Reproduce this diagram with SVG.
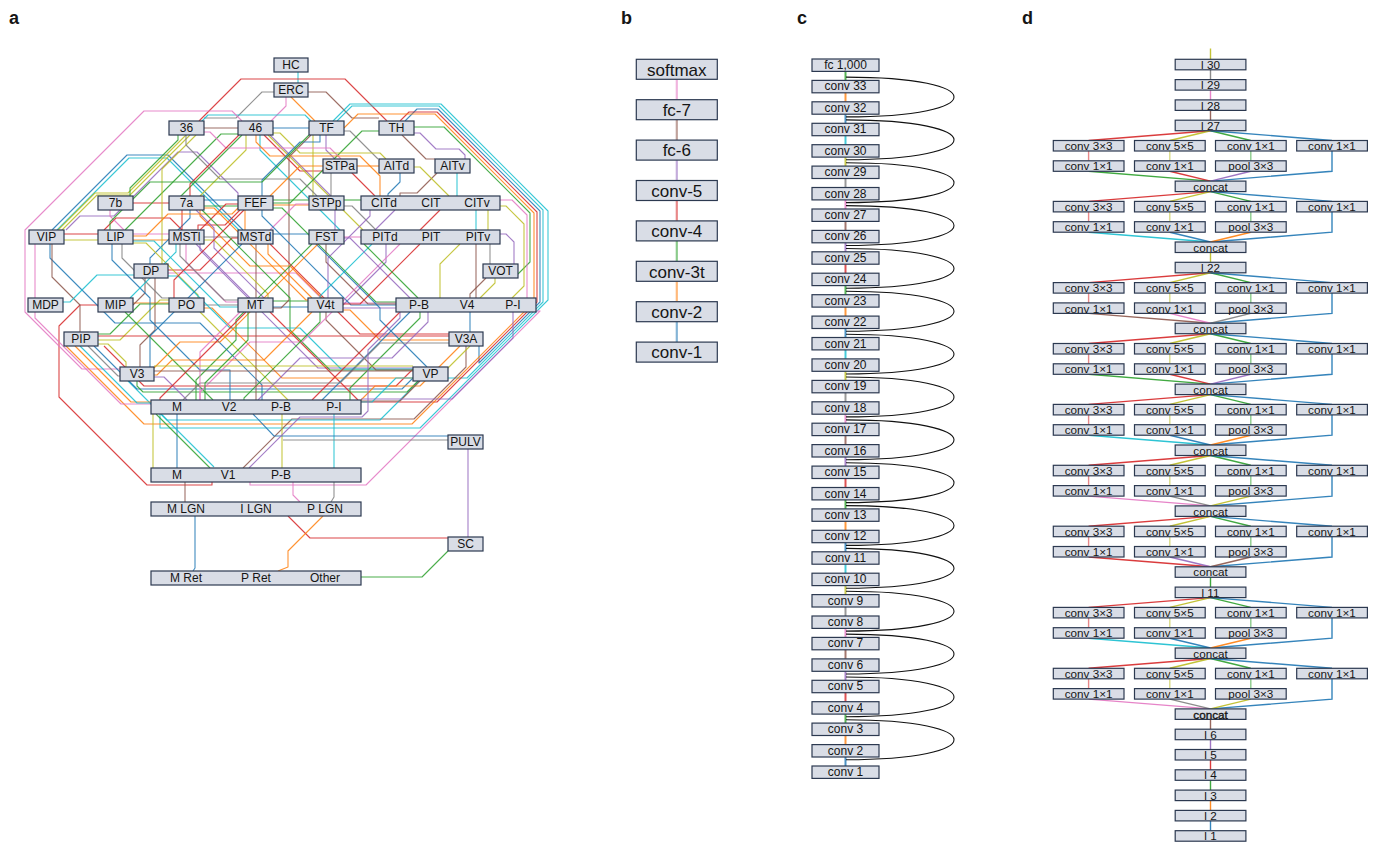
<svg xmlns="http://www.w3.org/2000/svg" width="1376" height="843" viewBox="0 0 1376 843">
<style>
text{font-family:"Liberation Sans",Arial,Helvetica,sans-serif;fill:#151515}
.lbl{font-size:18px;font-weight:bold}
.n rect{fill:#d9dde6;stroke:#2c3950;stroke-width:1.2}
.ta{font-size:12px;text-anchor:middle}
.tb{font-size:17px;text-anchor:middle}
.tc{font-size:12px;text-anchor:middle}
.td{font-size:11.7px;text-anchor:middle}
#conA path{fill:none;stroke-width:1.1;stroke-linejoin:round;opacity:.85}
#conB path{fill:none;stroke-width:2.2;opacity:.55}
#conC path{fill:none;stroke-width:2;opacity:.8}
#conC .arc{stroke:#111;stroke-width:1.1;opacity:1}
#conD path{fill:none;stroke-width:1.4;opacity:.9}
#conD .lt{opacity:.55}
.c0{stroke:#1f77b4}.c1{stroke:#ff7f0e}.c2{stroke:#2ca02c}.c3{stroke:#d62728}.c4{stroke:#9467bd}
.c5{stroke:#8c564b}.c6{stroke:#e377c2}.c7{stroke:#7f7f7f}.c8{stroke:#bcbd22}.c9{stroke:#17becf}
</style>
<rect width="1376" height="843" fill="#ffffff"/>
<text class="lbl" x="9" y="24">a</text>
<text class="lbl" x="621" y="24">b</text>
<text class="lbl" x="797" y="24">c</text>
<text class="lbl" x="1022" y="24">d</text>

<!-- ========== PANEL A CONNECTORS ========== -->
<g id="conA">
<path class="c9" d="M298,72 V83"/>
<path class="c1" d="M291,97 L315,121"/>
<path class="c5" d="M308,92 H326 L352,118 H379"/>
<path class="c7" d="M274,92 H262 L236,118 H204"/>
<path class="c3" d="M199,121 L241,79 H345 L387,121"/>
<path class="c6" d="M286,97 V106 L271,121"/>
<path class="c5" d="M204,128 H238"/>
<path class="c0" d="M273,128 H309"/>
<path class="c9" d="M202,121 L208,115 H305 L311,121"/>
<!-- outer envelope -->
<path class="c9" d="M333,121 L350,104 H441 L548,211 V300 L420,428 H160 V414"/>
<path class="c9" d="M337,121 L352,106 H439 L543,210 V302 L467,378 H448"/>
<path class="c0" d="M405,121 L417,109 H438 L540,211 V302 L479,363 V346"/>
<path class="c3" d="M400,121 L409,112 H437 L537,212 V302 L437,402 H361"/>
<path class="c1" d="M66,346 L144,424 H412 L534,302 V213 L435,114 H358 L344,128"/>
<path class="c2" d="M414,127 H444 L530,213 V262 L518,274"/>
<path class="c5" d="M243,468 L292,419 H414 L466,367 V346"/>
<path class="c9" d="M128,381 L167,420 H380 L419,381"/>
<path class="c6" d="M250,482 V485 H366 L540,311 H536"/>
<path class="c3" d="M98,305 H80 L59,326 V397 L147,485 H212 V482"/>
<path class="c6" d="M242,121 L232,111 H144 L25,230 V312 L82,369 H120"/>
<path class="c6" d="M35,244 V318 L121,404 H151"/>
<!-- left / top-left -->
<path class="c0" d="M52,230 L127,155 H168 L243,230"/>
<path class="c9" d="M57,230 L129,158 H167 L239,230"/>
<path class="c8" d="M58,230 L95,193 H128 L186,135"/>
<path class="c8" d="M62,230 L97,195 H130 L190,135"/>
<path class="c4" d="M66,230 L80,216 H114 L178,152 H197 L238,193 V196"/>
<path class="c3" d="M133,203 H169"/>
<path class="c3" d="M64,234 H98"/>
<path class="c8" d="M64,240 H98"/>
<path class="c6" d="M133,234 H169"/>
<path class="c1" d="M133,240 H169"/>
<path class="c7" d="M204,237 H238"/>
<path class="c0" d="M273,234 H309"/>
<path class="c6" d="M344,237 H361"/>
<path class="c0" d="M204,200 H238"/>
<path class="c2" d="M204,206 H238"/>
<path class="c2" d="M273,200 H309"/>
<path class="c1" d="M273,205 H309"/>
<path class="c1" d="M357,166 H379"/>
<path class="c1" d="M133,303 H169"/>
<path class="c7" d="M204,305 H238"/>
<path class="c2" d="M273,301 H308"/>
<path class="c0" d="M273,307 H308"/>
<path class="c6" d="M343,303 H396"/>
<path class="c4" d="M343,308 H396"/>
<path class="c3" d="M104,230 L116,218 H170 L182,230"/>
<path class="c2" d="M125,230 L221,134 H238"/>
<path class="c2" d="M178,135 V140 L130,188 V196"/>
<path class="c0" d="M50,244 V258 L115,323 H200 L262,385 V400"/>
<path class="c5" d="M52,244 V277 L80,305 V332"/>
<path class="c9" d="M63,302 H70 L97,275 H134"/>
<path class="c8" d="M98,340 H120 L160,300 H169"/>
<path class="c8" d="M98,344 H108 L126,362 V367"/>
<path class="c7" d="M88,346 L118,376 H120"/>
<path class="c1" d="M75,346 L131,402 H151"/>
<path class="c9" d="M80,346 L137,403 H151"/>
<path class="c5" d="M145,278 V293 L133,305"/>
<path class="c5" d="M155,278 V330 L140,345 V367"/>
<path class="c8" d="M196,135 L162,169 V264"/>
<path class="c3" d="M168,270 H200 L232,238 H238"/>
<path class="c6" d="M110,210 V216 L124,230"/>
<path class="c3" d="M98,336 H449"/>
<path class="c3" d="M104,346 L144,386 H396 L413,369"/>
<path class="c0" d="M94,346 L137,389 H402 L416,375"/>
<path class="c2" d="M137,381 V386 L143,392 H407 L418,381"/>
<path class="c6" d="M168,273 H296 L321,298"/>
<path class="c1" d="M343,310 H350 L380,340 H449"/>
<path class="c2" d="M98,334 H110 L140,304 H169"/>
<path class="c4" d="M386,244 V262 L343,305"/>
<!-- top middle -->
<path class="c2" d="M242,135 L180,197"/>
<path class="c8" d="M246,135 V150 L200,196"/>
<path class="c4" d="M270,135 L331,196"/>
<path class="c3" d="M264,135 L300,171 H350 L375,196"/>
<path class="c8" d="M268,135 L358,225 L363,230"/>
<path class="c9" d="M260,135 V150 L340,230"/>
<path class="c4" d="M326,135 V150 L335,159"/>
<path class="c8" d="M313,135 V196"/>
<path class="c5" d="M311,135 L289,157 V300 L281,308 H273"/>
<path class="c7" d="M344,131 H350 L378,159"/>
<path class="c2" d="M379,131 H362 L290,203 H273"/>
<path class="c5" d="M402,135 L426,159 H435"/>
<path class="c5" d="M437,173 L417,193 H400 V196"/>
<path class="c8" d="M414,167 H420 L449,196"/>
<path class="c7" d="M331,173 V196"/>
<path class="c4" d="M335,210 V230"/>
<path class="c7" d="M344,206 H352 L376,230"/>
<path class="c2" d="M344,200 H361"/>
<path class="c4" d="M395,210 L375,230"/>
<path class="c3" d="M440,210 L420,230"/>
<path class="c9" d="M457,173 V196"/>
<path class="c9" d="M476,210 V230"/>
<path class="c8" d="M488,210 V230"/>
<path class="c5" d="M476,244 V298"/>
<path class="c7" d="M490,244 V264"/>
<path class="c4" d="M500,234 H506 L514,242 V264"/>
<path class="c6" d="M500,200 H512 L527,215 V305 H536"/>
<path class="c8" d="M500,206 H506 L524,224 V286 L512,298"/>
<path class="c8" d="M495,278 V283 L480,298"/>
<path class="c5" d="M486,278 L470,294 V298"/>
<path class="c6" d="M204,132 H210 L226,148 H330 L341,159"/>
<path class="c8" d="M273,133 H280 L300,153 H380 L386,159"/>
<path class="c4" d="M414,133 H420 L436,149 H459 L465,155 V159"/>
<path class="c7" d="M186,135 V145 L220,179 H300 L317,196"/>
<path class="c1" d="M256,135 V142 L270,156 H360 L380,176 V196"/>
<path class="c0" d="M400,173 V182 L388,194 V196"/>
<!-- FEF / 7a -->
<path class="c0" d="M262,196 V180 L300,142 H320 V135"/>
<path class="c1" d="M270,196 L300,166 H323"/>
<path class="c3" d="M190,196 V184 L239,135"/>
<path class="c2" d="M110,230 V222 L150,182 H262 L305,139 L309,135"/>
<path class="c1" d="M245,210 V230"/>
<path class="c3" d="M240,210 L225,225 H198 V230"/>
<path class="c2" d="M273,208 H282 L376,302 H396"/>
<path class="c0" d="M190,210 V218 L150,258 V264"/>
<path class="c1" d="M200,210 V216 L250,266 H290 L322,298"/>
<path class="c3" d="M182,210 V230"/>
<path class="c4" d="M196,210 L214,228 V248 L264,298"/>
<path class="c6" d="M270,230 L296,204 H309"/>
<path class="c3" d="M200,230 L226,204 H238"/>
<!-- LIP / MST -->
<path class="c8" d="M133,243 H146 L198,295 V298"/>
<path class="c9" d="M133,241 H154 L220,307 H238"/>
<path class="c1" d="M133,236 H146 L168,214 H232 L238,208"/>
<path class="c7" d="M122,244 V258 L162,298 H169"/>
<path class="c0" d="M112,244 V260 L150,298 V320 L200,370 H230 V400"/>
<path class="c4" d="M196,244 L250,298"/>
<path class="c5" d="M256,244 V298"/>
<path class="c1" d="M268,244 V254 L312,298"/>
<path class="c8" d="M204,240 H214 L268,294 V298"/>
<path class="c9" d="M176,244 V252 L130,298"/>
<path class="c6" d="M186,244 V262 L226,302 H238"/>
<path class="c7" d="M180,244 V256 L224,300 H238"/>
<!-- crossing diagonals -->
<path class="c0" d="M262,210 V216 L351,305 H396"/>
<path class="c3" d="M270,244 L360,334 H449"/>
<path class="c4" d="M200,244 V250 L318,368 H413"/>
<path class="c2" d="M202,210 L290,298 V330 L330,370 H413"/>
<path class="c1" d="M204,208 H214 L306,300 H308"/>
<path class="c5" d="M326,244 V262 L368,304 H396"/>
<path class="c0" d="M316,244 L380,308 V320 L427,367"/>
<path class="c3" d="M270,312 L358,400"/>
<path class="c8" d="M200,312 L288,400"/>
<path class="c1" d="M204,308 H212 L282,378 H413"/>
<path class="c2" d="M125,312 L213,400"/>
<path class="c4" d="M154,377 H164 L187,400"/>
<path class="c9" d="M168,276 H178 L230,328 H300 L341,369 H413"/>
<path class="c5" d="M326,312 V320 L376,370 H413"/>
<path class="c3" d="M244,210 L174,280 V298"/>
<path class="c0" d="M242,244 L150,336 V367"/>
<path class="c2" d="M312,244 L236,320 V340 L196,380 V400"/>
<path class="c1" d="M318,244 L220,342 H180 L154,368"/>
<path class="c4" d="M370,210 V216 L328,258 V298"/>
<path class="c9" d="M372,244 L320,296 V298"/>
<path class="c3" d="M420,244 L360,304 H343"/>
<path class="c6" d="M400,244 L302,342 H250 L200,392 V400"/>
<path class="c0" d="M410,312 L322,400"/>
<path class="c3" d="M400,312 L312,400"/>
<path class="c2" d="M420,312 V318 L350,388 V400"/>
<path class="c4" d="M428,312 V322 L392,358 H300 L258,400"/>
<path class="c1" d="M460,346 L420,386 H375 L361,400"/>
<path class="c7" d="M449,343 H380 L340,383 H200 L183,400"/>
<path class="c5" d="M420,381 L400,401 H361"/>
<path class="c9" d="M413,378 H396 L372,402 H361"/>
<path class="c8" d="M460,244 L440,264 V298"/>
<path class="c6" d="M240,312 L200,352 V400"/>
<path class="c3" d="M246,312 L160,398 V400"/>
<path class="c1" d="M312,312 L264,360 H172 L157,375 H154"/>
<path class="c2" d="M320,312 V322 L244,398 V400"/>
<path class="c4" d="M410,298 L350,238 H344"/>
<path class="c2" d="M418,298 L364,244"/>
<path class="c4" d="M513,312 V338 L452,399 H361"/>
<path class="c8" d="M470,346 L448,368"/>
<path class="c8" d="M154,366 H413"/>
<path class="c5" d="M154,371 H413"/>
<path class="c5" d="M256,312 V400"/>
<path class="c2" d="M248,312 V340 L205,383 V400"/>
<path class="c0" d="M470,312 V332"/>
<!-- bottom -->
<path class="c0" d="M177,414 V468"/>
<path class="c8" d="M153,414 V468"/>
<path class="c2" d="M156,414 L210,468"/>
<path class="c9" d="M161,414 L214,467"/>
<path class="c8" d="M282,414 V468"/>
<path class="c9" d="M334,414 V468"/>
<path class="c0" d="M253,414 L274,436 H448"/>
<path class="c7" d="M283,440 H448"/>
<path class="c4" d="M249,468 L300,417 H362 L368,411 V350 L400,318 V312"/>
<path class="c4" d="M468,449 V537"/>
<path class="c5" d="M185,482 V502"/>
<path class="c0" d="M195,516 V568 L193,571"/>
<path class="c6" d="M293,482 V495 L300,502"/>
<path class="c7" d="M334,482 V497 L331,502"/>
<path class="c3" d="M288,516 L310,538 H448"/>
<path class="c1" d="M323,516 L288,551 V567 L278,571"/>
<path class="c2" d="M361,577 H422 L448,551"/>
</g>

<!-- ========== PANEL A NODES ========== -->
<g class="n">
<g id="a-HC"><rect x="274" y="58" width="34" height="14"/><text class="ta" x="291" y="69">HC</text></g>
<g id="a-ERC"><rect x="274" y="83" width="34" height="14"/><text class="ta" x="291" y="94">ERC</text></g>
<g id="a-36"><rect x="169" y="121" width="35" height="14"/><text class="ta" x="186.5" y="132">36</text></g>
<g id="a-46"><rect x="238" y="121" width="35" height="14"/><text class="ta" x="255.5" y="132">46</text></g>
<g id="a-TF"><rect x="309" y="121" width="35" height="14"/><text class="ta" x="326.5" y="132">TF</text></g>
<g id="a-TH"><rect x="379" y="121" width="35" height="14"/><text class="ta" x="396.5" y="132">TH</text></g>
<g id="a-STPa"><rect x="323" y="159" width="34" height="14"/><text class="ta" x="340" y="170">STPa</text></g>
<g id="a-AITd"><rect x="379" y="159" width="35" height="14"/><text class="ta" x="396.5" y="170">AITd</text></g>
<g id="a-AITv"><rect x="435" y="159" width="35" height="14"/><text class="ta" x="452.5" y="170">AITv</text></g>
<g id="a-7b"><rect x="98" y="196" width="35" height="14"/><text class="ta" x="115.5" y="207">7b</text></g>
<g id="a-7a"><rect x="169" y="196" width="35" height="14"/><text class="ta" x="186.5" y="207">7a</text></g>
<g id="a-FEF"><rect x="238" y="196" width="35" height="14"/><text class="ta" x="255.5" y="207">FEF</text></g>
<g id="a-STPp"><rect x="309" y="196" width="35" height="14"/><text class="ta" x="326.5" y="207">STPp</text></g>
<g id="a-CIT"><rect x="361" y="196" width="139" height="14"/><text class="ta" x="384" y="207">CITd</text><text class="ta" x="431" y="207">CIT</text><text class="ta" x="477" y="207">CITv</text></g>
<g id="a-VIP"><rect x="29" y="230" width="35" height="14"/><text class="ta" x="46.5" y="241">VIP</text></g>
<g id="a-LIP"><rect x="98" y="230" width="35" height="14"/><text class="ta" x="115.5" y="241">LIP</text></g>
<g id="a-MSTl"><rect x="169" y="230" width="35" height="14"/><text class="ta" x="186.5" y="241">MSTl</text></g>
<g id="a-MSTd"><rect x="238" y="230" width="35" height="14"/><text class="ta" x="255.5" y="241">MSTd</text></g>
<g id="a-FST"><rect x="309" y="230" width="35" height="14"/><text class="ta" x="326.5" y="241">FST</text></g>
<g id="a-PIT"><rect x="361" y="230" width="139" height="14"/><text class="ta" x="385" y="241">PITd</text><text class="ta" x="431" y="241">PIT</text><text class="ta" x="478" y="241">PITv</text></g>
<g id="a-DP"><rect x="134" y="264" width="34" height="14"/><text class="ta" x="151" y="275">DP</text></g>
<g id="a-VOT"><rect x="483" y="264" width="35" height="14"/><text class="ta" x="500.5" y="275">VOT</text></g>
<g id="a-MDP"><rect x="28" y="298" width="35" height="14"/><text class="ta" x="45.5" y="309">MDP</text></g>
<g id="a-MIP"><rect x="98" y="298" width="35" height="14"/><text class="ta" x="115.5" y="309">MIP</text></g>
<g id="a-PO"><rect x="169" y="298" width="35" height="14"/><text class="ta" x="186.5" y="309">PO</text></g>
<g id="a-MT"><rect x="238" y="298" width="35" height="14"/><text class="ta" x="255.5" y="309">MT</text></g>
<g id="a-V4t"><rect x="308" y="298" width="35" height="14"/><text class="ta" x="325.5" y="309">V4t</text></g>
<g id="a-V4"><rect x="396" y="298" width="140" height="14"/><text class="ta" x="419" y="309">P-B</text><text class="ta" x="467" y="309">V4</text><text class="ta" x="513" y="309">P-I</text></g>
<g id="a-PIP"><rect x="64" y="332" width="34" height="14"/><text class="ta" x="81" y="343">PIP</text></g>
<g id="a-V3A"><rect x="449" y="332" width="34" height="14"/><text class="ta" x="466" y="343">V3A</text></g>
<g id="a-V3"><rect x="120" y="367" width="34" height="14"/><text class="ta" x="137" y="378">V3</text></g>
<g id="a-VP"><rect x="413" y="367" width="35" height="14"/><text class="ta" x="430.5" y="378">VP</text></g>
<g id="a-V2"><rect x="151" y="400" width="210" height="14"/><text class="ta" x="177" y="411">M</text><text class="ta" x="229" y="411">V2</text><text class="ta" x="281" y="411">P-B</text><text class="ta" x="334" y="411">P-I</text></g>
<g id="a-PULV"><rect x="448" y="435" width="35" height="14"/><text class="ta" x="465.5" y="446">PULV</text></g>
<g id="a-V1"><rect x="151" y="468" width="210" height="14"/><text class="ta" x="177" y="479">M</text><text class="ta" x="228" y="479">V1</text><text class="ta" x="281" y="479">P-B</text></g>
<g id="a-LGN"><rect x="151" y="502" width="210" height="14"/><text class="ta" x="186" y="513">M LGN</text><text class="ta" x="256" y="513">I LGN</text><text class="ta" x="325" y="513">P LGN</text></g>
<g id="a-SC"><rect x="448" y="537" width="35" height="14"/><text class="ta" x="465.5" y="548">SC</text></g>
<g id="a-Ret"><rect x="151" y="571" width="210" height="14"/><text class="ta" x="186" y="582">M Ret</text><text class="ta" x="256" y="582">P Ret</text><text class="ta" x="325" y="582">Other</text></g>
</g>

<!-- ========== PANEL B ========== -->
<g id="conB">
<path class="c6" d="M676.8,79.3 V99.7"/>
<path class="c5" d="M676.8,119.7 V140.1"/>
<path class="c4" d="M676.8,160.1 V180.5"/>
<path class="c3" d="M676.8,200.5 V220.9"/>
<path class="c2" d="M676.8,240.9 V261.3"/>
<path class="c1" d="M676.8,281.3 V301.7"/>
<path class="c0" d="M676.8,321.7 V342.1"/>
</g>
<g class="n">
<g id="b-softmax"><rect x="636.3" y="59.3" width="81" height="20"/><text class="tb" x="676.8" y="75.6">softmax</text></g>
<g id="b-fc7"><rect x="636.3" y="99.7" width="81" height="20"/><text class="tb" x="676.8" y="116">fc-7</text></g>
<g id="b-fc6"><rect x="636.3" y="140.1" width="81" height="20"/><text class="tb" x="676.8" y="156.4">fc-6</text></g>
<g id="b-conv5"><rect x="636.3" y="180.5" width="81" height="20"/><text class="tb" x="676.8" y="196.8">conv-5</text></g>
<g id="b-conv4"><rect x="636.3" y="220.9" width="81" height="20"/><text class="tb" x="676.8" y="237.2">conv-4</text></g>
<g id="b-conv3t"><rect x="636.3" y="261.3" width="81" height="20"/><text class="tb" x="676.8" y="277.6">conv-3t</text></g>
<g id="b-conv2"><rect x="636.3" y="301.7" width="81" height="20"/><text class="tb" x="676.8" y="318">conv-2</text></g>
<g id="b-conv1"><rect x="636.3" y="342.1" width="81" height="20"/><text class="tb" x="676.8" y="358.4">conv-1</text></g>
</g>

<!-- ========== PANEL C ========== -->
<g id="conC">
<path class="c2" d="M845.5,71.4 V80.4"/>
<path class="c1" d="M845.5,92.8 V101.8"/>
<path class="c0" d="M845.5,114.2 V123.3"/>
<path class="c9" d="M845.5,135.7 V144.7"/>
<path class="c8" d="M845.5,157.1 V166.1"/>
<path class="c7" d="M845.5,178.5 V187.5"/>
<path class="c6" d="M845.5,199.9 V209"/>
<path class="c5" d="M845.5,221.4 V230.4"/>
<path class="c4" d="M845.5,242.8 V251.8"/>
<path class="c3" d="M845.5,264.2 V273.2"/>
<path class="c2" d="M845.5,285.6 V294.7"/>
<path class="c1" d="M845.5,307.1 V316.1"/>
<path class="c0" d="M845.5,328.5 V337.5"/>
<path class="c9" d="M845.5,349.9 V358.9"/>
<path class="c8" d="M845.5,371.3 V380.4"/>
<path class="c7" d="M845.5,392.8 V401.8"/>
<path class="c6" d="M845.5,414.2 V423.2"/>
<path class="c5" d="M845.5,435.6 V444.6"/>
<path class="c4" d="M845.5,457 V466.1"/>
<path class="c3" d="M845.5,478.5 V487.5"/>
<path class="c2" d="M845.5,499.9 V508.9"/>
<path class="c1" d="M845.5,521.3 V530.3"/>
<path class="c0" d="M845.5,542.7 V551.8"/>
<path class="c9" d="M845.5,564.2 V573.2"/>
<path class="c8" d="M845.5,585.6 V594.6"/>
<path class="c7" d="M845.5,607 V616"/>
<path class="c6" d="M845.5,628.4 V637.4"/>
<path class="c5" d="M845.5,649.8 V658.9"/>
<path class="c4" d="M845.5,671.3 V680.3"/>
<path class="c3" d="M845.5,692.7 V701.7"/>
<path class="c2" d="M845.5,714.1 V723.1"/>
<path class="c1" d="M845.5,735.5 V744.6"/>
<path class="c0" d="M845.5,757 V766"/>
<path class="arc" d="M846,77.1 C990,77.1 990,116.9 846,116.9"/>
<path class="arc" d="M846,119.9 C990,119.9 990,159.8 846,159.8"/>
<path class="arc" d="M846,162.8 C990,162.8 990,202.6 846,202.6"/>
<path class="arc" d="M846,205.6 C990,205.6 990,245.5 846,245.5"/>
<path class="arc" d="M846,248.5 C990,248.5 990,288.3 846,288.3"/>
<path class="arc" d="M846,291.3 C990,291.3 990,331.2 846,331.2"/>
<path class="arc" d="M846,334.2 C990,334.2 990,374 846,374"/>
<path class="arc" d="M846,377 C990,377 990,416.9 846,416.9"/>
<path class="arc" d="M846,419.9 C990,419.9 990,459.7 846,459.7"/>
<path class="arc" d="M846,462.7 C990,462.7 990,502.6 846,502.6"/>
<path class="arc" d="M846,505.6 C990,505.6 990,545.4 846,545.4"/>
<path class="arc" d="M846,548.4 C990,548.4 990,588.3 846,588.3"/>
<path class="arc" d="M846,591.3 C990,591.3 990,631.1 846,631.1"/>
<path class="arc" d="M846,634.1 C990,634.1 990,674 846,674"/>
<path class="arc" d="M846,677 C990,677 990,716.8 846,716.8"/>
<path class="arc" d="M846,719.8 C990,719.8 990,759.7 846,759.7"/>
</g>
<g class="n">
<g id="c-fc"><rect x="812" y="59" width="67" height="12.4"/><text class="tc" x="845.5" y="69">fc 1,000</text></g>
<g id="c-33"><rect x="812" y="80.4" width="67" height="12.4"/><text class="tc" x="845.5" y="90.4">conv 33</text></g>
<g id="c-32"><rect x="812" y="101.8" width="67" height="12.4"/><text class="tc" x="845.5" y="111.8">conv 32</text></g>
<g id="c-31"><rect x="812" y="123.3" width="67" height="12.4"/><text class="tc" x="845.5" y="133.3">conv 31</text></g>
<g id="c-30"><rect x="812" y="144.7" width="67" height="12.4"/><text class="tc" x="845.5" y="154.7">conv 30</text></g>
<g id="c-29"><rect x="812" y="166.1" width="67" height="12.4"/><text class="tc" x="845.5" y="176.1">conv 29</text></g>
<g id="c-28"><rect x="812" y="187.5" width="67" height="12.4"/><text class="tc" x="845.5" y="197.5">conv 28</text></g>
<g id="c-27"><rect x="812" y="209" width="67" height="12.4"/><text class="tc" x="845.5" y="219">conv 27</text></g>
<g id="c-26"><rect x="812" y="230.4" width="67" height="12.4"/><text class="tc" x="845.5" y="240.4">conv 26</text></g>
<g id="c-25"><rect x="812" y="251.8" width="67" height="12.4"/><text class="tc" x="845.5" y="261.8">conv 25</text></g>
<g id="c-24"><rect x="812" y="273.2" width="67" height="12.4"/><text class="tc" x="845.5" y="283.2">conv 24</text></g>
<g id="c-23"><rect x="812" y="294.7" width="67" height="12.4"/><text class="tc" x="845.5" y="304.7">conv 23</text></g>
<g id="c-22"><rect x="812" y="316.1" width="67" height="12.4"/><text class="tc" x="845.5" y="326.1">conv 22</text></g>
<g id="c-21"><rect x="812" y="337.5" width="67" height="12.4"/><text class="tc" x="845.5" y="347.5">conv 21</text></g>
<g id="c-20"><rect x="812" y="358.9" width="67" height="12.4"/><text class="tc" x="845.5" y="368.9">conv 20</text></g>
<g id="c-19"><rect x="812" y="380.4" width="67" height="12.4"/><text class="tc" x="845.5" y="390.4">conv 19</text></g>
<g id="c-18"><rect x="812" y="401.8" width="67" height="12.4"/><text class="tc" x="845.5" y="411.8">conv 18</text></g>
<g id="c-17"><rect x="812" y="423.2" width="67" height="12.4"/><text class="tc" x="845.5" y="433.2">conv 17</text></g>
<g id="c-16"><rect x="812" y="444.6" width="67" height="12.4"/><text class="tc" x="845.5" y="454.6">conv 16</text></g>
<g id="c-15"><rect x="812" y="466.1" width="67" height="12.4"/><text class="tc" x="845.5" y="476.1">conv 15</text></g>
<g id="c-14"><rect x="812" y="487.5" width="67" height="12.4"/><text class="tc" x="845.5" y="497.5">conv 14</text></g>
<g id="c-13"><rect x="812" y="508.9" width="67" height="12.4"/><text class="tc" x="845.5" y="518.9">conv 13</text></g>
<g id="c-12"><rect x="812" y="530.3" width="67" height="12.4"/><text class="tc" x="845.5" y="540.3">conv 12</text></g>
<g id="c-11"><rect x="812" y="551.8" width="67" height="12.4"/><text class="tc" x="845.5" y="561.8">conv 11</text></g>
<g id="c-10"><rect x="812" y="573.2" width="67" height="12.4"/><text class="tc" x="845.5" y="583.2">conv 10</text></g>
<g id="c-9"><rect x="812" y="594.6" width="67" height="12.4"/><text class="tc" x="845.5" y="604.6">conv 9</text></g>
<g id="c-8"><rect x="812" y="616" width="67" height="12.4"/><text class="tc" x="845.5" y="626">conv 8</text></g>
<g id="c-7"><rect x="812" y="637.4" width="67" height="12.4"/><text class="tc" x="845.5" y="647.4">conv 7</text></g>
<g id="c-6"><rect x="812" y="658.9" width="67" height="12.4"/><text class="tc" x="845.5" y="668.9">conv 6</text></g>
<g id="c-5"><rect x="812" y="680.3" width="67" height="12.4"/><text class="tc" x="845.5" y="690.3">conv 5</text></g>
<g id="c-4"><rect x="812" y="701.7" width="67" height="12.4"/><text class="tc" x="845.5" y="711.7">conv 4</text></g>
<g id="c-3"><rect x="812" y="723.1" width="67" height="12.4"/><text class="tc" x="845.5" y="733.1">conv 3</text></g>
<g id="c-2"><rect x="812" y="744.6" width="67" height="12.4"/><text class="tc" x="845.5" y="754.6">conv 2</text></g>
<g id="c-1"><rect x="812" y="766" width="67" height="12.4"/><text class="tc" x="845.5" y="776">conv 1</text></g>
</g>

<!-- ========== PANEL D ========== -->
<g id="conD">
<path class="c8" d="M1210.5,48.5 V59.3"/>
<path class="c7" d="M1210.5,69.8 V79.6"/>
<path class="c6" d="M1210.5,90.1 V99.9"/>
<path class="c5" d="M1210.5,110.4 V120.2"/>
<path class="c8" d="M1210.5,252.5 V262.3"/>
<path class="c2" d="M1210.5,577.3 V587.1"/>
<path class="c5" d="M1210.5,719.4 V729.2"/>
<path class="c4" d="M1210.5,739.7 V749.5"/>
<path class="c3" d="M1210.5,760 V769.8"/>
<path class="c2" d="M1210.5,780.3 V790.1"/>
<path class="c1" d="M1210.5,800.6 V810.4"/>
<path class="c0" d="M1210.5,820.9 V830.7"/>
<path class="c3" d="M1210.5,130.7 L1088.6,140.5"/><path class="c8" d="M1210.5,130.7 L1169.8,140.5"/><path class="c2" d="M1210.5,130.7 L1250.8,140.5"/><path class="c0" d="M1210.5,130.7 L1332,140.5"/>
<path class="c3 lt" d="M1088.6,151 V160.8"/><path class="c8 lt" d="M1169.8,151 V160.8"/><path class="c2 lt" d="M1250.8,151 V160.8"/>
<path class="c0" d="M1332,151 V171.3 L1210.5,181.1"/>
<path class="c2" d="M1088.6,171.3 L1210.5,181.1"/><path class="c3" d="M1169.8,171.3 L1210.5,181.1"/><path class="c4" d="M1250.8,171.3 L1210.5,181.1"/>
<path class="c3" d="M1210.5,191.6 L1088.6,201.4"/><path class="c8" d="M1210.5,191.6 L1169.8,201.4"/><path class="c2" d="M1210.5,191.6 L1250.8,201.4"/><path class="c0" d="M1210.5,191.6 L1332,201.4"/>
<path class="c3 lt" d="M1088.6,211.9 V221.7"/><path class="c8 lt" d="M1169.8,211.9 V221.7"/><path class="c2 lt" d="M1250.8,211.9 V221.7"/>
<path class="c0" d="M1332,211.9 V232.2 L1210.5,242"/>
<path class="c9" d="M1088.6,232.2 L1210.5,242"/><path class="c0" d="M1169.8,232.2 L1210.5,242"/><path class="c1" d="M1250.8,232.2 L1210.5,242"/>
<path class="c3" d="M1210.5,272.8 L1088.6,282.6"/><path class="c8" d="M1210.5,272.8 L1169.8,282.6"/><path class="c2" d="M1210.5,272.8 L1250.8,282.6"/><path class="c0" d="M1210.5,272.8 L1332,282.6"/>
<path class="c3 lt" d="M1088.6,293.1 V302.9"/><path class="c8 lt" d="M1169.8,293.1 V302.9"/><path class="c2 lt" d="M1250.8,293.1 V302.9"/>
<path class="c0" d="M1332,293.1 V313.4 L1210.5,323.2"/>
<path class="c5" d="M1088.6,313.4 L1210.5,323.2"/><path class="c6" d="M1169.8,313.4 L1210.5,323.2"/><path class="c7" d="M1250.8,313.4 L1210.5,323.2"/>
<path class="c3" d="M1210.5,333.7 L1088.6,343.5"/><path class="c8" d="M1210.5,333.7 L1169.8,343.5"/><path class="c2" d="M1210.5,333.7 L1250.8,343.5"/><path class="c0" d="M1210.5,333.7 L1332,343.5"/>
<path class="c3 lt" d="M1088.6,354 V363.8"/><path class="c8 lt" d="M1169.8,354 V363.8"/><path class="c2 lt" d="M1250.8,354 V363.8"/>
<path class="c0" d="M1332,354 V374.3 L1210.5,384.1"/>
<path class="c2" d="M1088.6,374.3 L1210.5,384.1"/><path class="c3" d="M1169.8,374.3 L1210.5,384.1"/><path class="c4" d="M1250.8,374.3 L1210.5,384.1"/>
<path class="c3" d="M1210.5,394.6 L1088.6,404.4"/><path class="c8" d="M1210.5,394.6 L1169.8,404.4"/><path class="c2" d="M1210.5,394.6 L1250.8,404.4"/><path class="c0" d="M1210.5,394.6 L1332,404.4"/>
<path class="c3 lt" d="M1088.6,414.9 V424.7"/><path class="c8 lt" d="M1169.8,414.9 V424.7"/><path class="c2 lt" d="M1250.8,414.9 V424.7"/>
<path class="c0" d="M1332,414.9 V435.2 L1210.5,445"/>
<path class="c9" d="M1088.6,435.2 L1210.5,445"/><path class="c0" d="M1169.8,435.2 L1210.5,445"/><path class="c1" d="M1250.8,435.2 L1210.5,445"/>
<path class="c3" d="M1210.5,455.5 L1088.6,465.3"/><path class="c8" d="M1210.5,455.5 L1169.8,465.3"/><path class="c2" d="M1210.5,455.5 L1250.8,465.3"/><path class="c0" d="M1210.5,455.5 L1332,465.3"/>
<path class="c3 lt" d="M1088.6,475.8 V485.6"/><path class="c8 lt" d="M1169.8,475.8 V485.6"/><path class="c2 lt" d="M1250.8,475.8 V485.6"/>
<path class="c0" d="M1332,475.8 V496.1 L1210.5,505.9"/>
<path class="c6" d="M1088.6,496.1 L1210.5,505.9"/><path class="c7" d="M1169.8,496.1 L1210.5,505.9"/><path class="c8" d="M1250.8,496.1 L1210.5,505.9"/>
<path class="c3" d="M1210.5,516.4 L1088.6,526.2"/><path class="c8" d="M1210.5,516.4 L1169.8,526.2"/><path class="c2" d="M1210.5,516.4 L1250.8,526.2"/><path class="c0" d="M1210.5,516.4 L1332,526.2"/>
<path class="c3 lt" d="M1088.6,536.7 V546.5"/><path class="c8 lt" d="M1169.8,536.7 V546.5"/><path class="c2 lt" d="M1250.8,536.7 V546.5"/>
<path class="c0" d="M1332,536.7 V557 L1210.5,566.8"/>
<path class="c3" d="M1088.6,557 L1210.5,566.8"/><path class="c4" d="M1169.8,557 L1210.5,566.8"/><path class="c5" d="M1250.8,557 L1210.5,566.8"/>
<path class="c3" d="M1210.5,597.6 L1088.6,607.4"/><path class="c8" d="M1210.5,597.6 L1169.8,607.4"/><path class="c2" d="M1210.5,597.6 L1250.8,607.4"/><path class="c0" d="M1210.5,597.6 L1332,607.4"/>
<path class="c3 lt" d="M1088.6,617.9 V627.7"/><path class="c8 lt" d="M1169.8,617.9 V627.7"/><path class="c2 lt" d="M1250.8,617.9 V627.7"/>
<path class="c0" d="M1332,617.9 V638.2 L1210.5,648"/>
<path class="c9" d="M1088.6,638.2 L1210.5,648"/><path class="c0" d="M1169.8,638.2 L1210.5,648"/><path class="c1" d="M1250.8,638.2 L1210.5,648"/>
<path class="c3" d="M1210.5,658.5 L1088.6,668.3"/><path class="c8" d="M1210.5,658.5 L1169.8,668.3"/><path class="c2" d="M1210.5,658.5 L1250.8,668.3"/><path class="c0" d="M1210.5,658.5 L1332,668.3"/>
<path class="c3 lt" d="M1088.6,678.8 V688.6"/><path class="c8 lt" d="M1169.8,678.8 V688.6"/><path class="c2 lt" d="M1250.8,678.8 V688.6"/>
<path class="c0" d="M1332,678.8 V699.1 L1210.5,708.9"/>
<path class="c6" d="M1088.6,699.1 L1210.5,708.9"/><path class="c7" d="M1169.8,699.1 L1210.5,708.9"/><path class="c8" d="M1250.8,699.1 L1210.5,708.9"/>
</g>
<g class="n">
<g id="d-l30"><rect x="1175.2" y="59.3" width="70.7" height="10.5"/><text class="td" x="1210.5" y="68.9">l 30</text></g>
<g id="d-l29"><rect x="1175.2" y="79.6" width="70.7" height="10.5"/><text class="td" x="1210.5" y="89.2">l 29</text></g>
<g id="d-l28"><rect x="1175.2" y="99.9" width="70.7" height="10.5"/><text class="td" x="1210.5" y="109.5">l 28</text></g>
<g id="d-l27"><rect x="1175.2" y="120.2" width="70.7" height="10.5"/><text class="td" x="1210.5" y="129.8">l 27</text></g>
<g id="d-m1a1"><rect x="1053.3" y="140.5" width="70.7" height="10.5"/><text class="td" x="1088.6" y="150.1">conv 3×3</text></g>
<g id="d-m1a2"><rect x="1134.5" y="140.5" width="70.7" height="10.5"/><text class="td" x="1169.8" y="150.1">conv 5×5</text></g>
<g id="d-m1a3"><rect x="1215.5" y="140.5" width="70.7" height="10.5"/><text class="td" x="1250.8" y="150.1">conv 1×1</text></g>
<g id="d-m1a4"><rect x="1296.7" y="140.5" width="70.7" height="10.5"/><text class="td" x="1332" y="150.1">conv 1×1</text></g>
<g id="d-m1b1"><rect x="1053.3" y="160.8" width="70.7" height="10.5"/><text class="td" x="1088.6" y="170.4">conv 1×1</text></g>
<g id="d-m1b2"><rect x="1134.5" y="160.8" width="70.7" height="10.5"/><text class="td" x="1169.8" y="170.4">conv 1×1</text></g>
<g id="d-m1b3"><rect x="1215.5" y="160.8" width="70.7" height="10.5"/><text class="td" x="1250.8" y="170.4">pool 3×3</text></g>
<g id="d-c1"><rect x="1175.2" y="181.1" width="70.7" height="10.5"/><text class="td" x="1210.5" y="190.7">concat</text></g>
<g id="d-m2a1"><rect x="1053.3" y="201.4" width="70.7" height="10.5"/><text class="td" x="1088.6" y="211">conv 3×3</text></g>
<g id="d-m2a2"><rect x="1134.5" y="201.4" width="70.7" height="10.5"/><text class="td" x="1169.8" y="211">conv 5×5</text></g>
<g id="d-m2a3"><rect x="1215.5" y="201.4" width="70.7" height="10.5"/><text class="td" x="1250.8" y="211">conv 1×1</text></g>
<g id="d-m2a4"><rect x="1296.7" y="201.4" width="70.7" height="10.5"/><text class="td" x="1332" y="211">conv 1×1</text></g>
<g id="d-m2b1"><rect x="1053.3" y="221.7" width="70.7" height="10.5"/><text class="td" x="1088.6" y="231.3">conv 1×1</text></g>
<g id="d-m2b2"><rect x="1134.5" y="221.7" width="70.7" height="10.5"/><text class="td" x="1169.8" y="231.3">conv 1×1</text></g>
<g id="d-m2b3"><rect x="1215.5" y="221.7" width="70.7" height="10.5"/><text class="td" x="1250.8" y="231.3">pool 3×3</text></g>
<g id="d-c2"><rect x="1175.2" y="242" width="70.7" height="10.5"/><text class="td" x="1210.5" y="251.6">concat</text></g>
<g id="d-l22"><rect x="1175.2" y="262.3" width="70.7" height="10.5"/><text class="td" x="1210.5" y="271.9">l 22</text></g>
<g id="d-m3a1"><rect x="1053.3" y="282.6" width="70.7" height="10.5"/><text class="td" x="1088.6" y="292.2">conv 3×3</text></g>
<g id="d-m3a2"><rect x="1134.5" y="282.6" width="70.7" height="10.5"/><text class="td" x="1169.8" y="292.2">conv 5×5</text></g>
<g id="d-m3a3"><rect x="1215.5" y="282.6" width="70.7" height="10.5"/><text class="td" x="1250.8" y="292.2">conv 1×1</text></g>
<g id="d-m3a4"><rect x="1296.7" y="282.6" width="70.7" height="10.5"/><text class="td" x="1332" y="292.2">conv 1×1</text></g>
<g id="d-m3b1"><rect x="1053.3" y="302.9" width="70.7" height="10.5"/><text class="td" x="1088.6" y="312.5">conv 1×1</text></g>
<g id="d-m3b2"><rect x="1134.5" y="302.9" width="70.7" height="10.5"/><text class="td" x="1169.8" y="312.5">conv 1×1</text></g>
<g id="d-m3b3"><rect x="1215.5" y="302.9" width="70.7" height="10.5"/><text class="td" x="1250.8" y="312.5">pool 3×3</text></g>
<g id="d-c3"><rect x="1175.2" y="323.2" width="70.7" height="10.5"/><text class="td" x="1210.5" y="332.8">concat</text></g>
<g id="d-m4a1"><rect x="1053.3" y="343.5" width="70.7" height="10.5"/><text class="td" x="1088.6" y="353.1">conv 3×3</text></g>
<g id="d-m4a2"><rect x="1134.5" y="343.5" width="70.7" height="10.5"/><text class="td" x="1169.8" y="353.1">conv 5×5</text></g>
<g id="d-m4a3"><rect x="1215.5" y="343.5" width="70.7" height="10.5"/><text class="td" x="1250.8" y="353.1">conv 1×1</text></g>
<g id="d-m4a4"><rect x="1296.7" y="343.5" width="70.7" height="10.5"/><text class="td" x="1332" y="353.1">conv 1×1</text></g>
<g id="d-m4b1"><rect x="1053.3" y="363.8" width="70.7" height="10.5"/><text class="td" x="1088.6" y="373.4">conv 1×1</text></g>
<g id="d-m4b2"><rect x="1134.5" y="363.8" width="70.7" height="10.5"/><text class="td" x="1169.8" y="373.4">conv 1×1</text></g>
<g id="d-m4b3"><rect x="1215.5" y="363.8" width="70.7" height="10.5"/><text class="td" x="1250.8" y="373.4">pool 3×3</text></g>
<g id="d-c4"><rect x="1175.2" y="384.1" width="70.7" height="10.5"/><text class="td" x="1210.5" y="393.7">concat</text></g>
<g id="d-m5a1"><rect x="1053.3" y="404.4" width="70.7" height="10.5"/><text class="td" x="1088.6" y="414">conv 3×3</text></g>
<g id="d-m5a2"><rect x="1134.5" y="404.4" width="70.7" height="10.5"/><text class="td" x="1169.8" y="414">conv 5×5</text></g>
<g id="d-m5a3"><rect x="1215.5" y="404.4" width="70.7" height="10.5"/><text class="td" x="1250.8" y="414">conv 1×1</text></g>
<g id="d-m5a4"><rect x="1296.7" y="404.4" width="70.7" height="10.5"/><text class="td" x="1332" y="414">conv 1×1</text></g>
<g id="d-m5b1"><rect x="1053.3" y="424.7" width="70.7" height="10.5"/><text class="td" x="1088.6" y="434.3">conv 1×1</text></g>
<g id="d-m5b2"><rect x="1134.5" y="424.7" width="70.7" height="10.5"/><text class="td" x="1169.8" y="434.3">conv 1×1</text></g>
<g id="d-m5b3"><rect x="1215.5" y="424.7" width="70.7" height="10.5"/><text class="td" x="1250.8" y="434.3">pool 3×3</text></g>
<g id="d-c5"><rect x="1175.2" y="445" width="70.7" height="10.5"/><text class="td" x="1210.5" y="454.6">concat</text></g>
<g id="d-m6a1"><rect x="1053.3" y="465.3" width="70.7" height="10.5"/><text class="td" x="1088.6" y="474.9">conv 3×3</text></g>
<g id="d-m6a2"><rect x="1134.5" y="465.3" width="70.7" height="10.5"/><text class="td" x="1169.8" y="474.9">conv 5×5</text></g>
<g id="d-m6a3"><rect x="1215.5" y="465.3" width="70.7" height="10.5"/><text class="td" x="1250.8" y="474.9">conv 1×1</text></g>
<g id="d-m6a4"><rect x="1296.7" y="465.3" width="70.7" height="10.5"/><text class="td" x="1332" y="474.9">conv 1×1</text></g>
<g id="d-m6b1"><rect x="1053.3" y="485.6" width="70.7" height="10.5"/><text class="td" x="1088.6" y="495.2">conv 1×1</text></g>
<g id="d-m6b2"><rect x="1134.5" y="485.6" width="70.7" height="10.5"/><text class="td" x="1169.8" y="495.2">conv 1×1</text></g>
<g id="d-m6b3"><rect x="1215.5" y="485.6" width="70.7" height="10.5"/><text class="td" x="1250.8" y="495.2">pool 3×3</text></g>
<g id="d-c6"><rect x="1175.2" y="505.9" width="70.7" height="10.5"/><text class="td" x="1210.5" y="515.5">concat</text></g>
<g id="d-m7a1"><rect x="1053.3" y="526.2" width="70.7" height="10.5"/><text class="td" x="1088.6" y="535.8">conv 3×3</text></g>
<g id="d-m7a2"><rect x="1134.5" y="526.2" width="70.7" height="10.5"/><text class="td" x="1169.8" y="535.8">conv 5×5</text></g>
<g id="d-m7a3"><rect x="1215.5" y="526.2" width="70.7" height="10.5"/><text class="td" x="1250.8" y="535.8">conv 1×1</text></g>
<g id="d-m7a4"><rect x="1296.7" y="526.2" width="70.7" height="10.5"/><text class="td" x="1332" y="535.8">conv 1×1</text></g>
<g id="d-m7b1"><rect x="1053.3" y="546.5" width="70.7" height="10.5"/><text class="td" x="1088.6" y="556.1">conv 1×1</text></g>
<g id="d-m7b2"><rect x="1134.5" y="546.5" width="70.7" height="10.5"/><text class="td" x="1169.8" y="556.1">conv 1×1</text></g>
<g id="d-m7b3"><rect x="1215.5" y="546.5" width="70.7" height="10.5"/><text class="td" x="1250.8" y="556.1">pool 3×3</text></g>
<g id="d-c7"><rect x="1175.2" y="566.8" width="70.7" height="10.5"/><text class="td" x="1210.5" y="576.4">concat</text></g>
<g id="d-l11"><rect x="1175.2" y="587.1" width="70.7" height="10.5"/><text class="td" x="1210.5" y="596.7">l 11</text></g>
<g id="d-m8a1"><rect x="1053.3" y="607.4" width="70.7" height="10.5"/><text class="td" x="1088.6" y="617">conv 3×3</text></g>
<g id="d-m8a2"><rect x="1134.5" y="607.4" width="70.7" height="10.5"/><text class="td" x="1169.8" y="617">conv 5×5</text></g>
<g id="d-m8a3"><rect x="1215.5" y="607.4" width="70.7" height="10.5"/><text class="td" x="1250.8" y="617">conv 1×1</text></g>
<g id="d-m8a4"><rect x="1296.7" y="607.4" width="70.7" height="10.5"/><text class="td" x="1332" y="617">conv 1×1</text></g>
<g id="d-m8b1"><rect x="1053.3" y="627.7" width="70.7" height="10.5"/><text class="td" x="1088.6" y="637.3">conv 1×1</text></g>
<g id="d-m8b2"><rect x="1134.5" y="627.7" width="70.7" height="10.5"/><text class="td" x="1169.8" y="637.3">conv 1×1</text></g>
<g id="d-m8b3"><rect x="1215.5" y="627.7" width="70.7" height="10.5"/><text class="td" x="1250.8" y="637.3">pool 3×3</text></g>
<g id="d-c8"><rect x="1175.2" y="648" width="70.7" height="10.5"/><text class="td" x="1210.5" y="657.6">concat</text></g>
<g id="d-m9a1"><rect x="1053.3" y="668.3" width="70.7" height="10.5"/><text class="td" x="1088.6" y="677.9">conv 3×3</text></g>
<g id="d-m9a2"><rect x="1134.5" y="668.3" width="70.7" height="10.5"/><text class="td" x="1169.8" y="677.9">conv 5×5</text></g>
<g id="d-m9a3"><rect x="1215.5" y="668.3" width="70.7" height="10.5"/><text class="td" x="1250.8" y="677.9">conv 1×1</text></g>
<g id="d-m9a4"><rect x="1296.7" y="668.3" width="70.7" height="10.5"/><text class="td" x="1332" y="677.9">conv 1×1</text></g>
<g id="d-m9b1"><rect x="1053.3" y="688.6" width="70.7" height="10.5"/><text class="td" x="1088.6" y="698.2">conv 1×1</text></g>
<g id="d-m9b2"><rect x="1134.5" y="688.6" width="70.7" height="10.5"/><text class="td" x="1169.8" y="698.2">conv 1×1</text></g>
<g id="d-m9b3"><rect x="1215.5" y="688.6" width="70.7" height="10.5"/><text class="td" x="1250.8" y="698.2">pool 3×3</text></g>
<g id="d-c9"><rect x="1175.2" y="708.9" width="70.7" height="10.5"/><text class="td" x="1210.5" y="718.5" stroke="#151515" stroke-width="0.35">concat</text></g>
<g id="d-l6"><rect x="1175.2" y="729.2" width="70.7" height="10.5"/><text class="td" x="1210.5" y="738.8">l 6</text></g>
<g id="d-l5"><rect x="1175.2" y="749.5" width="70.7" height="10.5"/><text class="td" x="1210.5" y="759.1">l 5</text></g>
<g id="d-l4"><rect x="1175.2" y="769.8" width="70.7" height="10.5"/><text class="td" x="1210.5" y="779.4">l 4</text></g>
<g id="d-l3"><rect x="1175.2" y="790.1" width="70.7" height="10.5"/><text class="td" x="1210.5" y="799.7">l 3</text></g>
<g id="d-l2"><rect x="1175.2" y="810.4" width="70.7" height="10.5"/><text class="td" x="1210.5" y="820">l 2</text></g>
<g id="d-l1"><rect x="1175.2" y="830.7" width="70.7" height="10.5"/><text class="td" x="1210.5" y="840.3">l 1</text></g>
</g>
</svg>
